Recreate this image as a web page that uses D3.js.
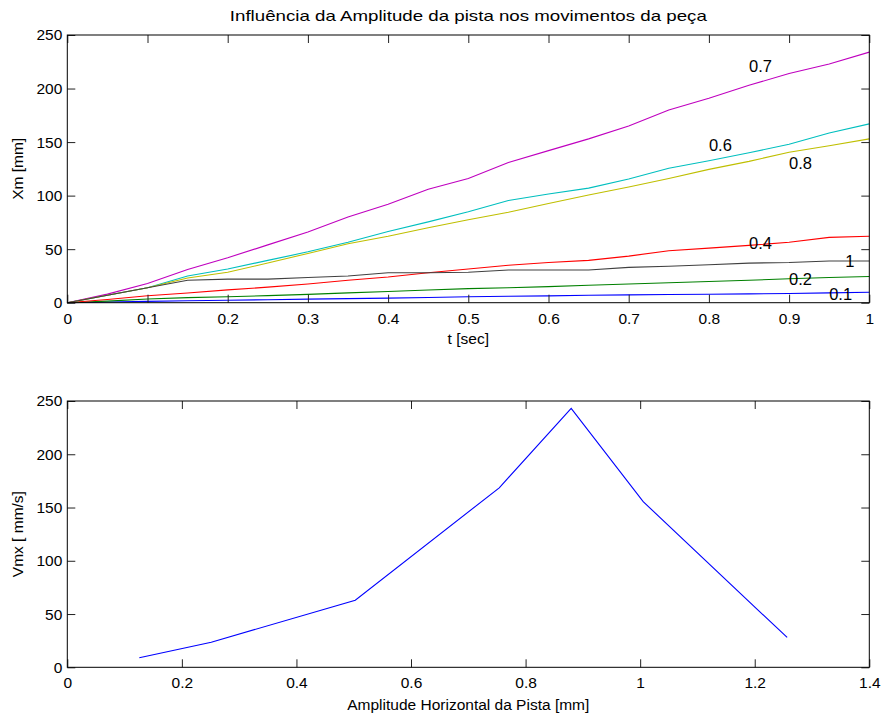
<!DOCTYPE html>
<html><head><meta charset="utf-8">
<script src="https://cdn.jsdelivr.net/npm/d3@7/dist/d3.min.js"></script>
<style>body{margin:0;background:#fff} svg text{font-family:"Liberation Sans",Arial,Helvetica,sans-serif;fill:#000}</style>
</head><body><svg id="c" width="886" height="717"></svg>
<script>
// ---------- data ----------
const times   = [0,0.05,0.1,0.15,0.2,0.25,0.3,0.35,0.4,0.45,0.5,0.55,0.6,0.65,0.7,0.75,0.8,0.85,0.9,0.95,1.0];
const xm01 = [0,0.6,1.2,1.8,2.3,2.8,3.3,3.8,4.3,4.9,5.5,6.0,6.4,7.0,7.3,7.6,7.9,8.2,8.6,9.2,9.7];
const xm02 = [0,1.5,3.5,4.7,5.6,6.6,7.8,9.2,10.5,11.8,13.1,14.0,15.0,16.3,17.4,18.6,19.8,21.0,22.3,23.5,24.5];
const xm04 = [0,3,6.5,9,12,14.5,17.5,21,24,28,31.5,35,37.5,39.5,43.5,48.5,51,53.5,56.5,61,62];
const xm06 = [0,7,14,25,31.5,39.5,47.5,56.5,66.5,75.5,85,95.5,101.5,107,115.5,125.5,132.5,140,148,158.5,167];
const xm07 = [0,8,18,31,42,54,66,80,92,106,116,131,142,153,165,180,191,203,214,223,234];
const xm08 = [0,7,14,23,28.5,37,46,55,62,70,77.5,84.5,92.6,100.5,108,116,124.5,132,140.5,146.5,153];
const xm10 = [0,7,14,21,22,22,23.5,25,28,28,28.5,30.5,30.5,30.5,33,34,35.5,37,37.5,39,39];
const seriesNames  = ["0.1","0.2","0.4","0.6","0.7","0.8","1"];
const seriesColors = ["#0000ff","#008000","#ff0000","#00bfbf","#bf00bf","#bfbf00","#404040"];
const labelT  = [0.95,0.90,0.85,0.80,0.85,0.90,0.97];
const labelXm = [7.8,21.9,55.5,147.3,220.4,130.7,38.3];

const amplitudes = [0.1257,0.2513,0.5027,0.754,0.8796,1.0053,1.2566];
const vmx        = [9,23.5,63,168.5,243,155.5,28];

const topXTicks    = [0,0.1,0.2,0.3,0.4,0.5,0.6,0.7,0.8,0.9,1];
const yTicks       = [0,50,100,150,200,250];
const bottomXTicks = [0,0.2,0.4,0.6,0.8,1,1.2,1.4];

// ---------- layout ----------
const svg = d3.select("#c");
const L = 67.3, R = 869.3;
const top1 = 35, bot1 = 302.7, top2 = 401, bot2 = 667.3;
const FS = 15.5;

function frame(x, y, xt, yt, y0, y1){
  const g = svg.append("g");
  const ax = g.append("g").attr("transform",`translate(0,${y1})`)
    .call(d3.axisBottom(x).tickValues(xt).tickSizeInner(-8).tickSizeOuter(0).tickPadding(10).tickFormat(d3.format("")));
  const at = g.append("g").attr("transform",`translate(0,${y0})`)
    .call(d3.axisTop(x).tickValues(xt).tickSizeInner(-8).tickSizeOuter(0).tickFormat(""));
  const ay = g.append("g").attr("transform",`translate(${L},0)`)
    .call(d3.axisLeft(y).tickValues(yt).tickSizeInner(-8).tickSizeOuter(0).tickPadding(5));
  const ar = g.append("g").attr("transform",`translate(${R},0)`)
    .call(d3.axisRight(y).tickValues(yt).tickSizeInner(-8).tickSizeOuter(0).tickFormat(""));
  [ax,at,ay,ar].forEach(a=>{
    a.select(".domain").remove();
    a.selectAll("line").attr("stroke","#222").attr("stroke-width",1);
    a.selectAll("text").attr("font-size",FS).attr("font-family",null);
  });
  g.append("rect").attr("x",L).attr("y",y0).attr("width",R-L).attr("height",y1-y0)
    .attr("fill","none").attr("stroke","#000").attr("stroke-width",1);
}

// ---------- top plot ----------
const x1 = d3.scaleLinear().domain([0,1]).range([L,R]);
const y1 = d3.scaleLinear().domain([0,250]).range([bot1,top1]);
const allXm = [xm01,xm02,xm04,xm06,xm07,xm08,xm10];
const line1 = d3.line().x((d,i)=>x1(times[i])).y(d=>y1(d));
svg.append("g").selectAll("path").data(allXm).join("path")
  .attr("d",d=>line1(d)).attr("fill","none")
  .attr("stroke",(d,i)=>seriesColors[i]).attr("stroke-width",1.1);
frame(x1,y1,topXTicks,yTicks,top1,bot1);
svg.append("g").selectAll("text").data(seriesNames).join("text")
  .attr("x",(d,i)=>x1(labelT[i])).attr("y",(d,i)=>y1(labelXm[i]))
  .attr("dy","0.35em").attr("font-size",16.5).text(d=>d);

svg.append("text").attr("x",(L+R)/2).attr("y",16).attr("dy","0.35em")
  .attr("text-anchor","middle").attr("font-size",15)
  .attr("textLength",477).attr("lengthAdjust","spacingAndGlyphs")
  .text("Influência da Amplitude da pista nos movimentos da peça");
svg.append("text").attr("x",(L+R)/2).attr("y",339).attr("dy","0.35em")
  .attr("text-anchor","middle").attr("font-size",FS).text("t [sec]");
svg.append("text").attr("transform",`translate(18,${(top1+bot1)/2}) rotate(-90)`)
  .attr("dy","0.35em").attr("text-anchor","middle").attr("font-size",FS).text("Xm [mm]");

// ---------- bottom plot ----------
const x2 = d3.scaleLinear().domain([0,1.4]).range([L,R]);
const y2 = d3.scaleLinear().domain([0,250]).range([bot2,top2]);
const line2 = d3.line().x(d=>x2(d[0])).y(d=>y2(d[1]));
svg.append("path").datum(d3.zip(amplitudes,vmx)).attr("d",line2)
  .attr("fill","none").attr("stroke","#0000ff").attr("stroke-width",1.1);
frame(x2,y2,bottomXTicks,yTicks,top2,bot2);
svg.append("text").attr("x",(L+R)/2).attr("y",705).attr("dy","0.35em")
  .attr("text-anchor","middle").attr("font-size",FS).text("Amplitude Horizontal da Pista [mm]");
svg.append("text").attr("transform",`translate(18,${(top2+bot2)/2}) rotate(-90)`)
  .attr("dy","0.35em").attr("text-anchor","middle").attr("font-size",FS).text("Vmx [ mm/s]");
</script></body></html>
